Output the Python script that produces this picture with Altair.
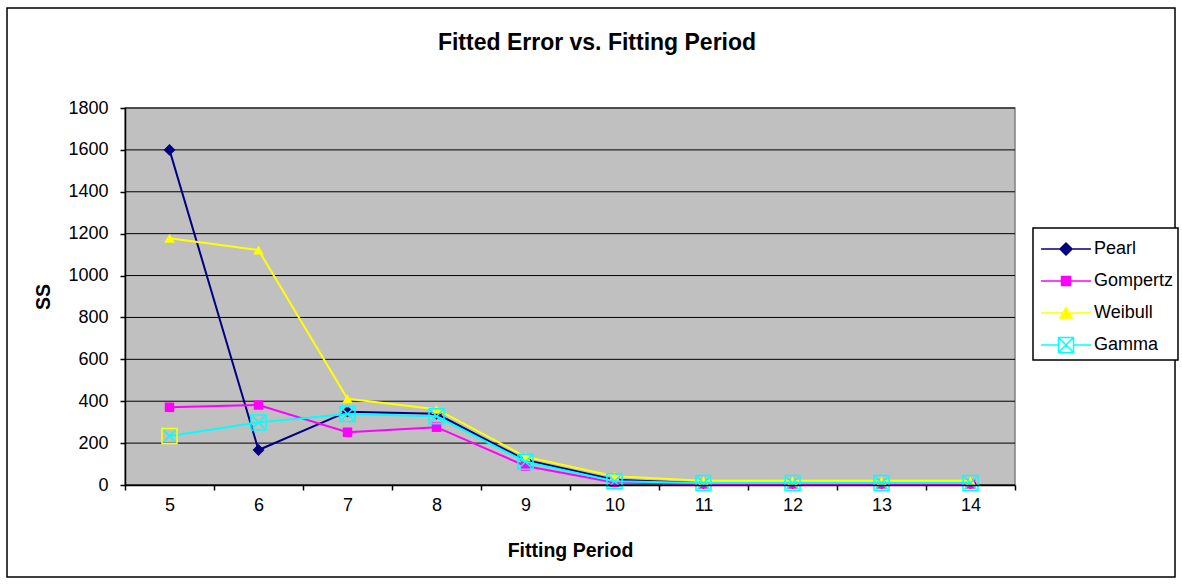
import altair as alt
import pandas as pd

periods = [5, 6, 7, 8, 9, 10, 11, 12, 13, 14]
pearl = [1600, 167, 350, 340, 119, 25, 8, 8, 8, 8]
gompertz = [371, 382, 252, 276, 91, 12, 5, 5, 5, 5]
weibull = [1178, 1122, 412, 362, 135, 42, 20, 20, 20, 20]
gamma = [234, 299, 339, 328, 111, 18, 10, 10, 10, 10]

series_names = ["Pearl", "Gompertz", "Weibull", "Gamma"]
series_colors = ["#000080", "#FF00FF", "#FFFF00", "#00FFFF"]
y_ticks = [0, 200, 400, 600, 800, 1000, 1200, 1400, 1600, 1800]

rows = []
for name, vals in zip(series_names, [pearl, gompertz, weibull, gamma]):
    for p, v in zip(periods, vals):
        rows.append({"period": p, "series": name, "ss": v})
df = pd.DataFrame(rows)
grid_df = pd.DataFrame({"ss": y_ticks})

FONT = "Liberation Sans"

x_enc = alt.X(
    "period:O",
    scale=alt.Scale(type="band", paddingInner=0, paddingOuter=0),
    bandPosition=0.5,
    axis=alt.Axis(
        title="Fitting Period", labelAngle=0, tickBand="extent", grid=False, zindex=1,
        domainColor="black", domainWidth=1.5, tickColor="black", tickSize=5,
        tickWidth=1.5, labelFont=FONT, labelFontSize=18, labelColor="black",
        labelPadding=6, titleFont=FONT, titleFontSize=19.5, titleFontWeight="bold",
        titleColor="black", titlePadding=27,
    ),
)
y_enc = alt.Y(
    "ss:Q",
    scale=alt.Scale(domain=[0, 1800], nice=False),
    axis=alt.Axis(
        title="SS", values=y_ticks, format="d", grid=False, zindex=1,
        domainColor="black", domainWidth=1.5, tickColor="black", tickSize=5,
        tickWidth=1.5, labelFont=FONT, labelFontSize=18, labelColor="black",
        labelPadding=12, titleFont=FONT, titleFontSize=19.5, titleFontWeight="bold",
        titleColor="black", titlePadding=14,
    ),
)

base = alt.Chart(df)
one_row = alt.Data(values=[{"a": 1}])

# Plot-area background
plot_bg = alt.Chart(one_row).mark_rect(fill="#C0C0C0", stroke="#808080", strokeWidth=1.5).encode(
    x=alt.value(0), x2=alt.value("width"), y=alt.value(0), y2=alt.value("height")
)
# Horizontal gridlines at the tick values
grid = alt.Chart(grid_df).mark_rule(color="black", strokeWidth=1).encode(y=y_enc)

# Outer chart border (decoration)
border = alt.Chart(one_row).mark_rect(
    fill="transparent", stroke="black", strokeWidth=1.5
).encode(x=alt.value(-118), x2=alt.value(1050), y=alt.value(-100), y2=alt.value(469))

layers = [border, plot_bg, grid]

marker_specs = {
    "Pearl": dict(shape="diamond", size=140),
    "Gompertz": dict(shape="square", size=90),
    "Weibull": dict(shape="triangle-up", size=110),
}

for name, col in zip(series_names, series_colors):
    sub = base.transform_filter(alt.datum.series == name)
    layers.append(sub.mark_line(color=col, strokeWidth=2).encode(x=x_enc, y=y_enc))
    if name in marker_specs:
        m = marker_specs[name]
        layers.append(sub.mark_point(shape=m["shape"], size=m["size"], filled=True,
                                     color=col, opacity=1).encode(x=x_enc, y=y_enc))
    else:
        layers.append(sub.mark_point(shape="M-1,-1H1V1H-1Z", size=225, filled=False,
                                     strokeWidth=1.5, opacity=1).encode(
            x=x_enc, y=y_enc,
            stroke=alt.condition(alt.datum.period == 5, alt.value("#FFFF00"), alt.value(col)),
        ))
        layers.append(sub.mark_point(shape="M-0.8,-0.8L0.8,0.8M0.8,-0.8L-0.8,0.8", size=225,
                                     filled=False, strokeWidth=1.5, color=col,
                                     opacity=1).encode(x=x_enc, y=y_enc))

legend_paths = [
    "M-1.56,0H1.56M0,-0.375L0.375,0L0,0.375L-0.375,0Z",
    "M-1.56,0H1.56M-0.28,-0.28H0.28V0.28H-0.28Z",
    "M-1.56,0H1.56M0,-0.34L0.38,0.31H-0.38Z",
    "M-1.56,0H-0.47M0.47,0H1.56M-0.47,-0.47H0.47V0.47H-0.47ZM-0.47,-0.47L0.47,0.47M0.47,-0.47L-0.47,0.47",
]
fill_range = ["#000080", "#FF00FF", "#FFFF00", "white"]

leg = alt.Legend(
    title=None, orient="none", legendX=908, legendY=120, symbolSize=1024,
    symbolStrokeWidth=1.5, symbolOffset=12, labelOffset=11, padding=4,
    rowPadding=6, strokeColor="black", fillColor="white", labelFont=FONT,
    labelFontSize=18, labelColor="black",
)

legend_layer = base.transform_filter(alt.datum.ss < 0).mark_point(
    filled=True, size=1024, strokeWidth=1.5, opacity=1
).encode(
    fill=alt.Fill("series:N", scale=alt.Scale(domain=series_names, range=fill_range), legend=leg),
    stroke=alt.Stroke("series:N", scale=alt.Scale(domain=series_names, range=series_colors), legend=leg),
    shape=alt.Shape("series:N", scale=alt.Scale(domain=series_names, range=legend_paths), legend=leg),
)
layers.append(legend_layer)

chart = alt.layer(*layers).properties(
    width=890, height=377,
    background="white",
    title=alt.TitleParams(
        text="Fitted Error vs. Fitting Period", font=FONT, fontSize=23,
        fontWeight="bold", color="black", anchor="middle", frame="group", dx=27, dy=52,
    ),
    autosize=alt.AutoSizeParams(type="none"),
    padding={"left": 125, "top": 108, "right": 167, "bottom": 99},
).configure_view(
    stroke=None
).configure_legend(strokeWidth=1.5)

chart.save("out.html", embed_options={"renderer": "svg", "actions": False})
